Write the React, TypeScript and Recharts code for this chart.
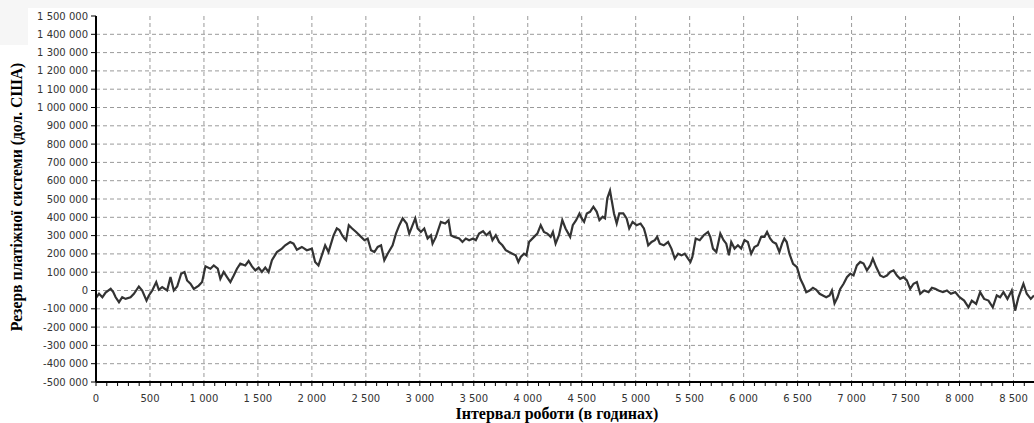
import { LineChart, Line, XAxis, YAxis, CartesianGrid } from "recharts"

// hours of operation and payment-system reserve (USD)
const hours = [
  0, 28, 59, 89, 136, 160, 182, 213, 243, 274, 320, 351, 397, 428, 468, 490, 521, 558, 582, 613,
  659, 690, 721, 752, 789, 820, 844, 875, 906, 952, 983, 1014, 1060, 1091, 1128, 1152, 1183, 1214,
  1245, 1276, 1306, 1337, 1383, 1414, 1445, 1476, 1507, 1537, 1568, 1599, 1630, 1676, 1722, 1753,
  1799, 1830, 1861, 1907, 1953, 2000, 2030, 2061, 2092, 2123, 2154, 2200, 2231, 2255, 2280, 2302,
  2317, 2342, 2373, 2410, 2456, 2487, 2517, 2548, 2579, 2610, 2641, 2671, 2702, 2748, 2779, 2810,
  2841, 2878, 2902, 2933, 2958, 2980, 3010, 3041, 3072, 3103, 3118, 3149, 3195, 3235, 3266, 3288,
  3318, 3365, 3395, 3426, 3457, 3494, 3519, 3549, 3586, 3617, 3648, 3673, 3704, 3734, 3765, 3796,
  3827, 3858, 3888, 3913, 3935, 3965, 3987, 4012, 4058, 4089, 4120, 4150, 4181, 4212, 4233, 4258,
  4289, 4320, 4350, 4393, 4417, 4448, 4479, 4500, 4522, 4547, 4577, 4608, 4639, 4664, 4694, 4716,
  4737, 4762, 4780, 4799, 4824, 4848, 4885, 4916, 4940, 4971, 5008, 5045, 5076, 5094, 5116, 5147,
  5177, 5199, 5223, 5260, 5300, 5331, 5362, 5393, 5424, 5454, 5485, 5507, 5525, 5556, 5593, 5630,
  5670, 5691, 5716, 5747, 5784, 5814, 5839, 5864, 5885, 5916, 5947, 5977, 6008, 6039, 6070, 6100,
  6131, 6162, 6193, 6217, 6245, 6270, 6300, 6331, 6356, 6377, 6399, 6424, 6458, 6494, 6525, 6555,
  6580, 6611, 6642, 6673, 6704, 6734, 6765, 6796, 6818, 6842, 6870, 6895, 6926, 6957, 6988, 7018,
  7049, 7080, 7111, 7142, 7173, 7197, 7228, 7265, 7296, 7327, 7358, 7389, 7420, 7450, 7481, 7512,
  7543, 7574, 7605, 7636, 7673, 7713, 7744, 7775, 7805, 7846, 7883, 7920, 7960, 8000, 8043, 8083,
  8114, 8154, 8191, 8228, 8268, 8308, 8345, 8376, 8407, 8444, 8484, 8515, 8546, 8592, 8623, 8660,
  8690,
]

const reserve = [
  -40000, -18000, -37000, -11000, 9000, -9000, -37000, -64000, -37000, -46000, -37000, -18000,
  22000, 0, -55000, -27000, 0, 46000, 4000, 18000, 0, 73000, 0, 22000, 92000, 101000, 55000, 37000,
  9000, 27000, 46000, 132000, 119000, 137000, 119000, 64000, 101000, 73000, 46000, 82000, 119000,
  147000, 137000, 161000, 132000, 110000, 125000, 101000, 125000, 101000, 165000, 210000, 229000,
  247000, 265000, 256000, 223000, 238000, 220000, 229000, 156000, 137000, 192000, 247000, 210000,
  300000, 339000, 330000, 302000, 284000, 275000, 357000, 339000, 320000, 293000, 275000, 284000,
  220000, 210000, 238000, 247000, 165000, 201000, 247000, 311000, 357000, 394000, 366000, 311000,
  357000, 394000, 339000, 320000, 339000, 284000, 302000, 256000, 293000, 375000, 366000, 384000,
  302000, 293000, 284000, 265000, 284000, 275000, 284000, 275000, 311000, 324000, 302000, 320000,
  275000, 302000, 265000, 247000, 220000, 210000, 201000, 192000, 156000, 183000, 201000, 192000,
  265000, 293000, 311000, 357000, 320000, 311000, 293000, 320000, 256000, 302000, 385000, 339000,
  293000, 357000, 384000, 421000, 394000, 375000, 421000, 430000, 458000, 430000, 384000, 403000,
  394000, 504000, 546000, 485000, 421000, 366000, 421000, 421000, 394000, 339000, 375000, 357000,
  366000, 339000, 302000, 247000, 265000, 275000, 293000, 256000, 247000, 265000, 229000, 174000,
  201000, 192000, 201000, 174000, 156000, 183000, 284000, 275000, 302000, 320000, 293000, 229000,
  210000, 311000, 275000, 256000, 192000, 265000, 229000, 247000, 229000, 275000, 265000, 201000,
  238000, 247000, 293000, 293000, 320000, 284000, 265000, 256000, 210000, 256000, 284000, 265000,
  201000, 146000, 128000, 64000, 27000, -9000, 0, 15000, 4000, -18000, -27000, -37000, -27000, 0,
  -70000, -37000, 9000, 37000, 73000, 92000, 82000, 137000, 156000, 147000, 110000, 137000, 174000,
  128000, 82000, 73000, 82000, 101000, 110000, 82000, 64000, 73000, 55000, 9000, 37000, 46000,
  -18000, 0, -9000, 15000, 9000, 0, -9000, 0, -18000, -9000, -37000, -55000, -92000, -55000, -73000,
  -9000, -46000, -55000, -92000, -27000, -37000, -9000, -46000, 0, -110000, -37000, 37000, -18000,
  -46000, -27000,
]

const yTicks = [
  -500000, -400000, -300000, -200000, -100000, 0, 100000, 200000, 300000, 400000, 500000, 600000,
  700000, 800000, 900000, 1000000, 1100000, 1200000, 1300000, 1400000, 1500000,
]
const yGridValues = yTicks.filter((v) => v > -500000 && v < 1500000)

const xLabelTicks = [
  0, 500, 1000, 1500, 2000, 2500, 3000, 3500, 4000, 4500, 5000, 5500, 6000, 6500, 7000, 7500, 8000,
  8500,
]
const xMinorTicks = Array.from({ length: 87 }, (_, i) => i * 100)
const xGridValues = xLabelTicks.filter((v) => v > 0)

const xTitle = "Інтервал роботи (в годинах)"
const yTitle = "Резерв платіжної системи (дол. США)"

const chartData = hours.map((h, i) => ({ hour: h, reserve: reserve[i] }))

function spaced(v: number): string {
  const s = String(Math.abs(v)).replace(/\B(?=(\d{3})+(?!\d))/g, " ")
  return v < 0 ? "-" + s : s
}

const tickFont = { fontFamily: "'DejaVu Sans', sans-serif", fontSize: 10, fill: "#333" }
const titleFont = "'Liberation Serif', 'Times New Roman', serif"

function XTick(props: any) {
  const { x, y, payload } = props
  if (payload.value % 500 !== 0) return <g />
  return (
    <text x={x} y={y + 14} textAnchor="middle" {...tickFont}>
      {spaced(payload.value)}
    </text>
  )
}

function XTitle(props: any) {
  const { viewBox } = props
  const cx = viewBox.x + viewBox.width / 2 - 8
  return (
    <g>
      <rect x={cx - 112} y={401} width={224} height={22} fill="#fff" />
      <text
        x={cx}
        y={419}
        textAnchor="middle"
        fontFamily={titleFont}
        fontWeight="bold"
        fontSize={16}
        fill="#000"
      >
        {xTitle}
      </text>
    </g>
  )
}

function YTitle(props: any) {
  const { viewBox } = props
  const cy = viewBox.y + viewBox.height / 2 - 2
  const cx = 22
  return (
    <text
      x={cx}
      y={cy}
      transform={`rotate(-90 ${cx} ${cy})`}
      textAnchor="middle"
      fontFamily={titleFont}
      fontWeight="bold"
      fontSize={15.7}
      fill="#000"
    >
      {yTitle}
    </text>
  )
}

export default function App() {
  return (
    <div
      style={{
        position: "absolute",
        left: 0,
        top: 0,
        width: 1034,
        height: 423,
        background: "#fff",
        overflow: "hidden",
      }}
    >
      <div style={{ position: "absolute", left: 0, top: 0, width: 1034, height: 8, background: "#f6f6f6" }} />
      <div style={{ position: "absolute", left: 0, top: 0, width: 28, height: 45, background: "#f6f6f6" }} />
      <div style={{ position: "absolute", left: 0, top: 0 }}>
        <LineChart
          width={1034}
          height={423}
          data={chartData}
          margin={{ top: 16, right: 0, left: 0, bottom: 0 }}
        >
          <CartesianGrid
            stroke="#9a9a9a"
            strokeDasharray="4 3"
            horizontalValues={yGridValues}
            verticalValues={xGridValues}
          />
          <XAxis
            dataKey="hour"
            type="number"
            domain={[0, 8690]}
            allowDataOverflow
            ticks={xMinorTicks}
            interval={0}
            tick={(p: any) => <XTick {...p} />}
            tickSize={4}
            tickLine={{ stroke: "#000" }}
            axisLine={{ stroke: "#000", strokeWidth: 2 }}
            height={41}
            label={(p: any) => <XTitle {...p} />}
          />
          <YAxis
            type="number"
            domain={[-500000, 1500000]}
            ticks={yTicks}
            interval={0}
            width={96}
            tickSize={5}
            tickMargin={3}
            tick={tickFont}
            tickFormatter={spaced}
            tickLine={{ stroke: "#000" }}
            axisLine={{ stroke: "#000", strokeWidth: 2 }}
            label={(p: any) => <YTitle {...p} />}
          />
          <Line
            type="linear"
            dataKey="reserve"
            stroke="#333"
            strokeWidth={2.2}
            dot={false}
            isAnimationActive={false}
          />
        </LineChart>
      </div>
    </div>
  )
}
